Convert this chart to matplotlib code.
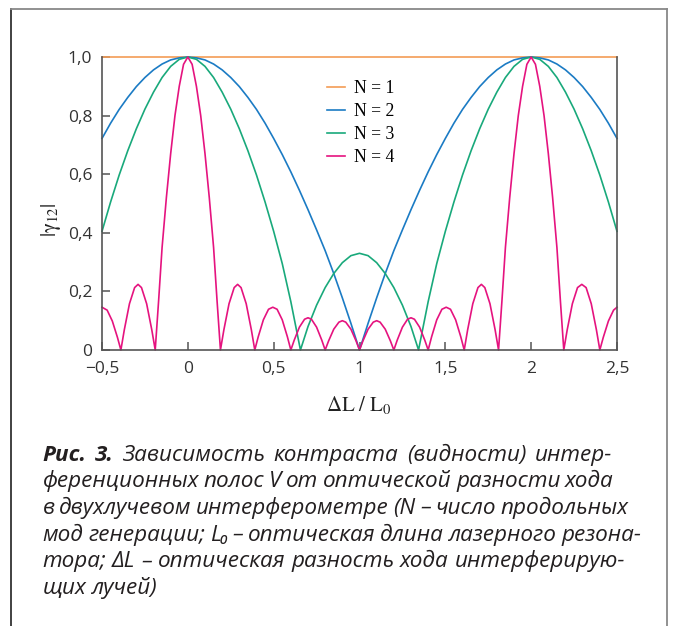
import numpy as np
import matplotlib.pyplot as plt
from matplotlib.lines import Line2D

plt.rcParams['mathtext.fontset'] = 'stix'

# values
x_ticks = [-0.5, 0, 0.5, 1, 1.5, 2, 2.5]
x_tick_labels = ['\u22120,5', '0', '0,5', '1', '1,5', '2', '2,5']
y_ticks = [0, 0.2, 0.4, 0.6, 0.8, 1.0]
y_tick_labels = ['0', '0,2', '0,4', '0,6', '0,8', '1,0']
labels = ['N = 1', 'N = 2', 'N = 3', 'N = 4']
colors = ['#f39c55', '#1b7bc4', '#19a97b', '#e5137f']

n1_x = [-0.5, 2.5]
n1_y = [1.0, 1.0]

n2_x = [-0.5, -0.45, -0.4, -0.35, -0.3, -0.25, -0.2, -0.15, -0.1, -0.05,
        0.0, 0.05, 0.1, 0.15, 0.2, 0.25, 0.3, 0.35, 0.4, 0.45,
        0.5, 0.55, 0.6, 0.65, 0.7, 0.75, 0.8, 0.85, 0.9, 0.95,
        1.0, 1.05, 1.1, 1.15, 1.2, 1.25, 1.3, 1.35, 1.4, 1.45,
        1.5, 1.55, 1.6, 1.65, 1.7, 1.75, 1.8, 1.85, 1.9, 1.95,
        2.0, 2.05, 2.1, 2.15, 2.2, 2.25, 2.3, 2.35, 2.4, 2.45, 2.5]
n2_y = [0.722, 0.774, 0.821, 0.862, 0.899, 0.930, 0.956, 0.976, 0.990, 0.997,
        1.0, 0.997, 0.990, 0.976, 0.956, 0.930, 0.899, 0.862, 0.821, 0.774,
        0.722, 0.667, 0.608, 0.545, 0.479, 0.410, 0.339, 0.261, 0.178, 0.091,
        0.0, 0.091, 0.178, 0.261, 0.339, 0.410, 0.479, 0.545, 0.608, 0.667,
        0.722, 0.774, 0.821, 0.862, 0.899, 0.930, 0.956, 0.976, 0.990, 0.997,
        1.0, 0.997, 0.990, 0.976, 0.956, 0.930, 0.899, 0.862, 0.821, 0.774, 0.722]

n3_x = [-0.5, -0.45, -0.4, -0.35, -0.3, -0.25, -0.2, -0.15, -0.1, -0.05,
        0.0, 0.05, 0.1, 0.15, 0.2, 0.25, 0.3, 0.35, 0.4, 0.45, 0.5, 0.55, 0.6,
        0.656, 0.7, 0.75, 0.8, 0.85, 0.9, 0.95, 1.0, 1.05, 1.1, 1.15, 1.2, 1.25, 1.3,
        1.344, 1.4, 1.45, 1.5, 1.55, 1.6, 1.65, 1.7, 1.75, 1.8, 1.85, 1.9, 1.95,
        2.0, 2.05, 2.1, 2.15, 2.2, 2.25, 2.3, 2.35, 2.4, 2.45, 2.5]
n3_y = [0.405, 0.505, 0.597, 0.680, 0.755, 0.822, 0.880, 0.930, 0.968, 0.992,
        1.0, 0.992, 0.968, 0.930, 0.880, 0.822, 0.755, 0.680, 0.597, 0.505, 0.405, 0.295, 0.165,
        0.0, 0.080, 0.153, 0.213, 0.261, 0.298, 0.322, 0.330, 0.322, 0.298, 0.261, 0.213, 0.153, 0.080,
        0.0, 0.165, 0.295, 0.405, 0.505, 0.597, 0.680, 0.755, 0.822, 0.880, 0.930, 0.968, 0.992,
        1.0, 0.992, 0.968, 0.930, 0.880, 0.822, 0.755, 0.680, 0.597, 0.505, 0.405]

n4_x = [-0.5, -0.47, -0.44, -0.41, -0.39,
        -0.37, -0.34, -0.31, -0.29, -0.27, -0.24, -0.21, -0.19,
        -0.17, -0.15, -0.125, -0.1, -0.075, -0.05, -0.025, 0.0,
        0.025, 0.05, 0.075, 0.1, 0.125, 0.15, 0.17, 0.19,
        0.21, 0.24, 0.27, 0.29, 0.31, 0.34, 0.37, 0.39,
        0.41, 0.44, 0.47, 0.495, 0.52, 0.55, 0.58, 0.6,
        0.62, 0.65, 0.68, 0.7, 0.72, 0.75, 0.78, 0.8,
        0.82, 0.85, 0.88, 0.9, 0.92, 0.95, 0.98, 1.0,
        1.02, 1.05, 1.08, 1.1, 1.12, 1.15, 1.18, 1.2,
        1.22, 1.25, 1.28, 1.3, 1.32, 1.35, 1.38, 1.4,
        1.42, 1.45, 1.48, 1.505, 1.53, 1.56, 1.59, 1.61,
        1.63, 1.66, 1.69, 1.71, 1.73, 1.76, 1.79, 1.81,
        1.83, 1.85, 1.875, 1.9, 1.925, 1.95, 1.975, 2.0,
        2.025, 2.05, 2.075, 2.1, 2.125, 2.15, 2.17, 2.19,
        2.21, 2.24, 2.27, 2.295, 2.32, 2.35, 2.38, 2.4,
        2.42, 2.45, 2.48, 2.5]
n4_y = [0.146, 0.136, 0.099, 0.043, 0.0,
        0.069, 0.158, 0.213, 0.224, 0.213, 0.158, 0.069, 0.0,
        0.17, 0.35, 0.52, 0.67, 0.80, 0.90, 0.975, 1.0,
        0.975, 0.90, 0.80, 0.67, 0.52, 0.35, 0.17, 0.0,
        0.069, 0.158, 0.213, 0.224, 0.213, 0.158, 0.069, 0.0,
        0.045, 0.103, 0.139, 0.146, 0.139, 0.103, 0.045, 0.0,
        0.034, 0.078, 0.105, 0.11, 0.105, 0.078, 0.034, 0.0,
        0.031, 0.071, 0.095, 0.10, 0.095, 0.071, 0.031, 0.0,
        0.031, 0.071, 0.095, 0.10, 0.095, 0.071, 0.031, 0.0,
        0.034, 0.078, 0.105, 0.11, 0.105, 0.078, 0.034, 0.0,
        0.045, 0.103, 0.139, 0.146, 0.139, 0.103, 0.045, 0.0,
        0.069, 0.158, 0.213, 0.224, 0.213, 0.158, 0.069, 0.0,
        0.17, 0.35, 0.52, 0.67, 0.80, 0.90, 0.975, 1.0,
        0.975, 0.90, 0.80, 0.67, 0.52, 0.35, 0.17, 0.0,
        0.069, 0.158, 0.213, 0.224, 0.213, 0.158, 0.069, 0.0,
        0.043, 0.099, 0.136, 0.146]

caption_head = 'Рис. 3.'
caption_lines = ['Зависимость контраста (видности) интер-',
                 'ференционных полос V от оптической разности хода',
                 'в двухлучевом интерферометре (N – число продольных',
                 'мод генерации; L\u2080 – оптическая длина лазерного резона-',
                 'тора; ΔL – оптическая разность хода интерферирую-',
                 'щих лучей)']

W, H = 673, 626
fig = plt.figure(figsize=(W / 100, H / 100), dpi=100)
ax = fig.add_axes([102 / W, 1 - 350 / H, 515 / W, 293 / H])

series = [(n1_x, n1_y), (n2_x, n2_y), (n3_x, n3_y), (n4_x, n4_y)]
for (xs, ys), lab, col in zip(series, labels, colors):
    ax.plot(xs, ys, color=col, lw=1.2, label=lab, clip_on=False)

ax.set_xlim(-0.5, 2.5)
ax.set_ylim(0, 1.0)
ax.set_xticks(x_ticks)
ax.set_xticklabels(x_tick_labels, fontfamily='Open Sans', fontsize=12.5, color='#333333')
ax.set_yticks(y_ticks)
ax.set_yticklabels(y_tick_labels, fontfamily='Open Sans', fontsize=12.5, color='#333333')
ax.tick_params(direction='in', length=6, width=1.1, color='#555555')
ax.tick_params(axis='x', pad=8)
ax.tick_params(axis='y', pad=7)
ax.spines['top'].set_visible(False)
for s in ['left', 'bottom', 'right']:
    ax.spines[s].set_color('#555555')
    ax.spines[s].set_linewidth(1.2)

ax.legend(loc='upper left', bbox_to_anchor=(0.437, 0.92), frameon=False,
          prop={'family': 'Liberation Serif', 'size': 12.7},
          handlelength=1.0, handletextpad=0.55, labelspacing=0.33,
          borderpad=0, borderaxespad=0)

fig.text(51 / W, 1 - 220 / H, r'$|\mathrm{\gamma}_{12}|$', rotation=90,
         ha='center', va='center', fontsize=15, color='#222222')
fig.text(359 / W, 1 - 405 / H, r'$\mathrm{\Delta L\ /\ L_0}$',
         ha='center', va='center', fontsize=15, color='#222222')

# outer frame
fig.add_artist(Line2D([11 / W, 11 / W], [0, 1 - 8.5 / H], color='#333333', lw=1.3))
fig.add_artist(Line2D([11 / W, 667 / W], [1 - 8.5 / H, 1 - 8.5 / H], color='#888888', lw=1.3))
fig.add_artist(Line2D([667 / W, 667 / W], [0, 1 - 8.5 / H], color='#888888', lw=1.3))

# caption, word spacing stretched so each line ends where the printed one does
cax = fig.add_axes([0, 0, 1, 1])
cax.set_axis_off()
cap_font = ['Open Sans', 'DejaVu Sans']
fs = 16.2
left = 42.7
baselines = [460.7, 487.3, 514.0, 540.6, 567.2, 593.8]
right_edges = [612, 614, 628, 641, 625, None]
renderer = fig.canvas.get_renderer()
space_px = 0.26 * fs * 100 / 72

for i, (line, b, r) in enumerate(zip(caption_lines, baselines, right_edges)):
    words = [(w, False) for w in line.split(' ')]
    if i == 0:
        words = [(w, True) for w in caption_head.split(' ')] + words
    texts = []
    for w, bold in words:
        t = cax.text(0, 1 - b / H, w, fontsize=fs, family=cap_font, style='italic',
                     fontweight='bold' if bold else 'normal', va='baseline',
                     color='#231f20')
        texts.append(t)
    widths = [t.get_window_extent(renderer).width for t in texts]
    gap = space_px if r is None else (r - left - sum(widths)) / (len(texts) - 1)
    x = left
    for t, w in zip(texts, widths):
        t.set_x(x / W)
        x += w + gap

fig.savefig('out.png', dpi=100)
